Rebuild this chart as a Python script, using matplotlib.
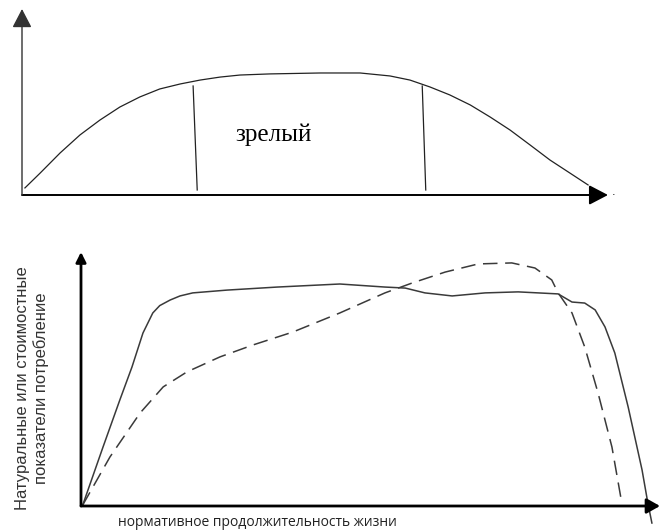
import matplotlib

matplotlib.use("Agg")
import matplotlib.pyplot as plt  # noqa: E402

# top panel: life-cycle curve (percent of axis length)
top_x = [0.5, 3.1, 6.5, 9.9, 13.3, 16.7, 20.1, 23.5, 27.0, 30.4, 33.8, 37.2, 42.3,
         50.9, 57.7, 62.8, 66.2, 69.6, 73.0, 76.5, 79.9, 83.3, 86.7, 90.1, 93.5, 96.6]
top_y = [3.8, 11.8, 22.6, 32.3, 40.3, 47.3, 52.7, 57.0, 59.7, 61.8, 63.4, 64.5, 65.1,
         65.6, 65.6, 64.0, 61.8, 58.1, 53.8, 48.4, 41.9, 34.9, 26.9, 18.8, 11.8, 5.4]
# stage borders: (x_top, x_bottom)
border_x = [(29.2, 29.9), (68.3, 68.9)]
border_y = (58.6, 2.7)
stage_label = "зрелый"

# bottom panel: solid (natural) and dashed (cost) curves
solid_x = [0.3, 3.8, 6.7, 8.8, 10.7, 12.4, 13.6, 15.4, 17.1, 19.3, 25.2, 33.9, 44.7,
           52.5, 56.0, 59.4, 64.1, 69.8, 75.5, 82.4, 84.8, 87.0, 88.8, 90.5, 92.2,
           94.5, 96.9, 97.9, 98.6]
solid_y = [0.4, 23.2, 41.7, 54.7, 68.1, 76.0, 78.9, 81.1, 82.7, 83.9, 85.0, 86.2, 87.4,
           86.2, 85.8, 83.9, 82.7, 83.9, 84.3, 83.5, 80.3, 79.9, 77.2, 70.5, 60.2,
           39.0, 14.2, 1.2, -6.7]
dash_x = [0.3, 5.0, 10.2, 14.2, 18.3, 24.0, 29.7, 36.6, 44.7, 52.5, 57.2, 62.9, 68.6,
          74.4, 78.4, 81.3, 82.4, 84.8, 87.0, 89.3, 91.7, 93.4]
dash_y = [0.4, 19.3, 36.6, 46.9, 52.8, 58.7, 63.4, 68.5, 76.0, 83.9, 87.8, 92.1, 95.3,
          95.7, 93.7, 89.0, 83.9, 76.0, 62.6, 44.5, 23.2, 1.2]

ylabel = "Натуральные или стоимостные\nпоказатели потребление"
xlabel = "нормативное продолжительность жизни"

W, H = 665, 532
fig = plt.figure(figsize=(W / 100, H / 100), dpi=100)


def make_axes(x0, y0, x1, y1):
    # pixel box (origin x0,y0 ; arrow tips x1,y1) -> axes
    ax = fig.add_axes([x0 / W, 1 - y0 / H, (x1 - x0) / W, (y0 - y1) / H])
    ax.set_xlim(0, 100)
    ax.set_ylim(0, 100)
    ax.axis("off")
    return ax


def arrow(ax, end, lw, hl, hw, color="black"):
    ax.annotate("", xy=end, xytext=(0, 0), xycoords="axes fraction",
                arrowprops=dict(arrowstyle=f"-|>,head_length={hl},head_width={hw}",
                                color=color, lw=lw, shrinkA=0, shrinkB=0))


# --- top ---
ax1 = make_axes(22, 195, 608, 9)
arrow(ax1, (1, 0), 1.4, 1.15, 0.6)
arrow(ax1, (0, 1), 1.0, 1.15, 0.6, color="#333333")
ax1.text(1.007, 0, ".", transform=ax1.transAxes, fontsize=8, va="baseline")
ax1.plot(top_x, top_y, color="#222222", lw=0.9, clip_on=False)
for xt, xb in border_x:
    ax1.plot([xt, xb], border_y, color="#222222", lw=0.9)
ax1.text(43.0, 32.3, stage_label, family="Liberation Serif", fontsize=18,
         ha="center", va="center")

# --- bottom ---
ax2 = make_axes(81, 506, 660, 252)
arrow(ax2, (1, 0), 2.0, 0.8, 0.45)
arrow(ax2, (0, 1), 2.0, 0.6, 0.3)
ax2.plot(solid_x, solid_y, color="#3a3a3a", lw=1.1, clip_on=False)
ax2.plot(dash_x, dash_y, color="#3a3a3a", lw=1.1, dashes=(9.5, 5), clip_on=False)
ax2.text(118 / W, 1 - 522 / H, xlabel, transform=fig.transFigure, family="Open Sans",
         fontsize=10, color="#222222", ha="left", va="center")
ax2.text(32 / W, 1 - 388 / H, ylabel, transform=fig.transFigure, family="Liberation Sans",
         fontsize=12, color="#333333", rotation=90, ha="center", va="center",
         multialignment="center", linespacing=1.2)

fig.savefig("out.png", dpi=100)
